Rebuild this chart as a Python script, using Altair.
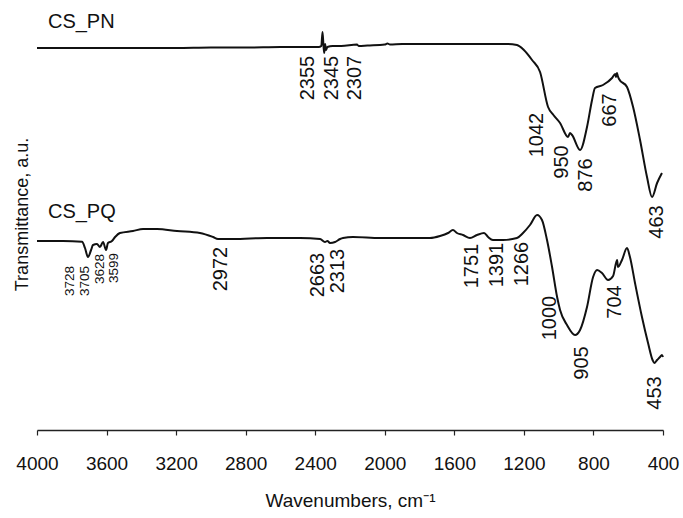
import altair as alt
import pandas as pd

FONT = "Liberation Sans"

# CS_PN spectrum (wavenumber, transmittance a.u.)
pn_wn = [4000, 3800, 3600, 3400, 3200, 3000, 2800, 2600, 2450, 2380,
         2365, 2358, 2352, 2348, 2343, 2338, 2330, 2300, 2250, 2160,
         2150, 2100, 2000, 1985, 1970, 1900, 1700, 1500, 1300, 1240,
         1200, 1153, 1107, 1061, 1030, 992, 946, 935, 923, 877,
         837, 808, 791, 745, 693, 675, 670, 665, 660, 653,
         607, 572, 532, 492, 463, 434, 406]
pn_val = [382, 382, 382, 382, 382, 382.5, 382.5, 383, 383, 383,
          384, 398, 383, 377, 386, 380, 383, 384, 384, 385.5,
          384, 384.5, 385.5, 386.5, 385.5, 386, 386, 386, 386, 385,
          380, 370, 358, 323, 315, 307, 293, 297, 295, 280,
          303, 330, 342, 345, 352, 356, 353, 357, 354, 351,
          343, 323, 290, 253, 233, 247, 257]

# CS_PQ spectrum
pq_wn = [4000, 3850, 3741, 3724, 3707, 3689, 3678, 3655, 3638, 3620,
         3603, 3592, 3569, 3551, 3523, 3448, 3390, 3310, 3195, 3063,
         2988, 2959, 2873, 2677, 2487, 2372, 2344, 2330, 2315, 2286,
         2257, 2240, 2183, 2027, 1838, 1740, 1682, 1636, 1608, 1585,
         1550, 1510, 1470, 1429, 1406, 1378, 1320, 1240, 1205, 1165,
         1124, 1096, 1067, 1038, 1009, 992, 952, 906, 877, 837,
         802, 779, 751, 716, 687, 664, 659, 636, 607, 590,
         561, 521, 486, 460, 450, 434, 417, 406, 400]
pq_val = [189, 189, 188.3, 182, 173, 180, 185, 186, 183, 188,
          180, 187, 189, 193, 197, 199, 201, 201, 199, 197,
          193, 191, 191, 192, 192, 191, 188, 189, 187, 188,
          191, 192, 193, 192, 192, 192, 194, 197, 200, 197,
          195, 192, 195, 197, 193, 190, 190, 192, 197, 205,
          215, 210, 190, 163, 133, 120, 105, 95, 100, 123,
          153, 160, 157, 150, 154, 170, 163, 170, 182, 173,
          147, 113, 87, 70, 67, 70, 73, 75, 73]

# Peak annotations: text, x position (wavenumber), y position (a.u.)
big_text = ["2355", "2345", "2307", "1042", "950", "876", "667", "463",
            "2972", "2663", "2313", "1751", "1391", "1266", "1000", "905", "704", "453"]
big_x = [2441, 2303, 2171, 1124, 981, 843, 705, 434,
         2942, 2384, 2269, 1498, 1355, 1211, 1050, 866, 676, 446]
big_y = [352, 352, 352, 295, 268, 255, 320, 208,
         161, 155, 159, 164, 165, 166, 112, 67, 128, 37]

small_text = ["3728", "3705", "3628", "3599"]
small_x = [3810, 3724, 3638, 3557]
small_y = [149, 149, 161, 162]

series_names = ["CS_PN", "CS_PQ"]
series_x = [3937, 3937]
series_y = [402, 212]

x_ticks = [4000, 3600, 3200, 2800, 2400, 2000, 1600, 1200, 800, 400]

spec = pd.concat([
    pd.DataFrame({"wn": pn_wn, "t": pn_val, "series": "CS_PN"}),
    pd.DataFrame({"wn": pq_wn, "t": pq_val, "series": "CS_PQ"}),
])
big = pd.DataFrame({"label": big_text, "wn": big_x, "t": big_y})
small = pd.DataFrame({"label": small_text, "wn": small_x, "t": small_y})
names = pd.DataFrame({"label": series_names, "wn": series_x, "t": series_y})

xscale = alt.Scale(domain=[400, 4000], reverse=True, nice=False, zero=False)
yscale = alt.Scale(domain=[0, 420], nice=False, zero=False)

xenc = alt.X("wn:Q", scale=xscale, axis=alt.Axis(
    values=x_ticks, format="d", title="Wavenumbers, cm⁻¹", grid=False,
    domainColor="#222", domainWidth=1.6, tickColor="#222", tickSize=5, tickWidth=1.2,
    labelFont=FONT, labelFontSize=19, labelColor="#111", labelPadding=19,
    labelFlush=False, labelOverlap=False,
    titleFont=FONT, titleFontSize=19, titleFontWeight="normal", titleColor="#111",
    titleY=70, titleBaseline="middle"))
yenc = alt.Y("t:Q", scale=yscale, axis=alt.Axis(
    labels=False, ticks=False, domain=False, grid=False,
    title="Transmittance, a.u.", titleFont=FONT, titleFontSize=18,
    titleFontWeight="normal", titleColor="#111",
    titleX=-15, titleY=204, titleAngle=270, titleAlign="center", titleBaseline="middle"))

lines = alt.Chart(spec).mark_line(color="#111", strokeWidth=2, interpolate="monotone").encode(
    x=xenc, y=yenc, detail="series:N", order=alt.Order("idx:Q")
).transform_window(idx="row_number()", groupby=["series"])

big_lbl = alt.Chart(big).mark_text(
    font=FONT, fontSize=20, angle=270, align="center", baseline="middle", color="#111"
).encode(x=alt.X("wn:Q", scale=xscale), y=alt.Y("t:Q", scale=yscale), text="label:N")

small_lbl = alt.Chart(small).mark_text(
    font=FONT, fontSize=13.5, angle=270, align="center", baseline="middle", color="#111"
).encode(x=alt.X("wn:Q", scale=xscale), y=alt.Y("t:Q", scale=yscale), text="label:N")

name_lbl = alt.Chart(names).mark_text(
    font=FONT, fontSize=20, align="left", baseline="alphabetic", color="#111"
).encode(x=alt.X("wn:Q", scale=xscale), y=alt.Y("t:Q", scale=yscale), text="label:N")

chart = alt.layer(lines, big_lbl, small_lbl, name_lbl).properties(
    width=626, height=420,
    padding={"left": 37, "top": 10, "right": 20, "bottom": 88},
    autosize=alt.AutoSizeParams(type="none"),
    background="white",
).configure_view(stroke=None)

chart.save("out.html", embed_options={"renderer": "svg", "actions": False})
